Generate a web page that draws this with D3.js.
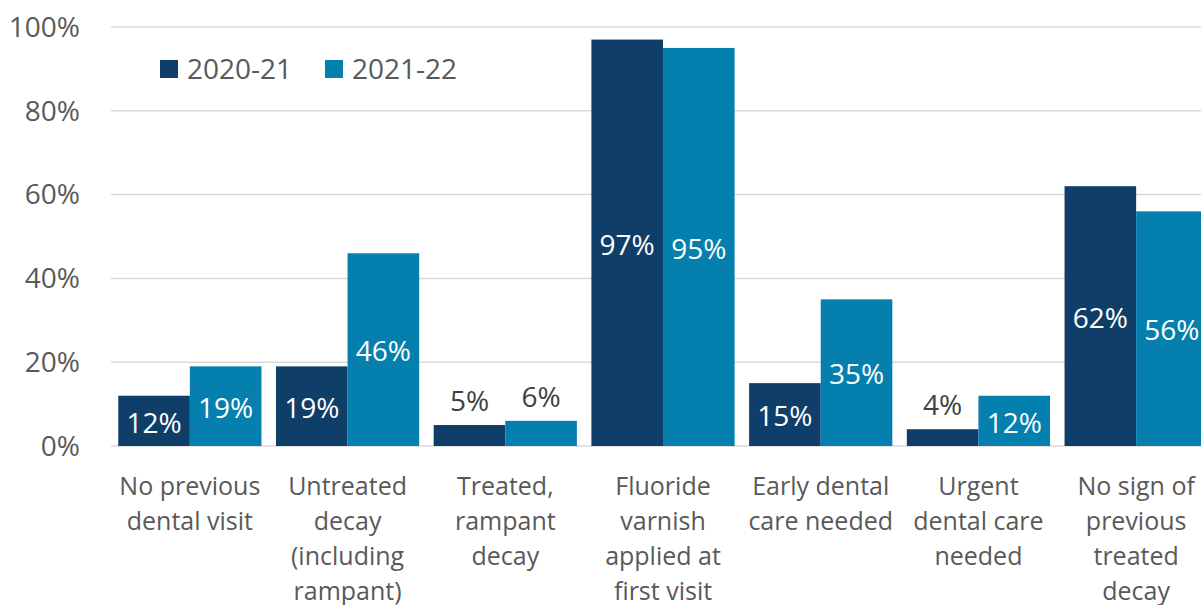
<!DOCTYPE html>
<html>
<head>
<meta charset="utf-8">
<script src="https://cdn.jsdelivr.net/npm/d3@7"></script>
<style>
  body { margin: 0; background: #fff; }
  svg text { font-family: "Open Sans", sans-serif; }
</style>
</head>
<body>
<svg id="vis" width="1201" height="605"></svg>
<script>
// chart values
var categories = [
  ["No previous", "dental visit"],
  ["Untreated", "decay", "(including", "rampant)"],
  ["Treated,", "rampant", "decay"],
  ["Fluoride", "varnish", "applied at", "first visit"],
  ["Early dental", "care needed"],
  ["Urgent", "dental care", "needed"],
  ["No sign of", "previous", "treated", "decay"]
];
var series = ["2020-21", "2021-22"];
var values2020 = [12, 19, 5, 97, 15, 4, 62];
var values2021 = [19, 46, 6, 95, 35, 12, 56];
var yTicks = [0, 20, 40, 60, 80, 100];

var colors = ["#0f3e69", "#047fae"];

var svg = d3.select('#vis');

var x = d3.scaleBand()
  .domain(d3.range(categories.length))
  .range([111, 1215])
  .paddingInner(0.092)
  .paddingOuter(0.046);

var xs = d3.scaleBand()
  .domain(d3.range(series.length))
  .range([0, x.bandwidth()]);

var y = d3.scaleLinear().domain([0, 100]).range([446, 27]);

// gridlines
svg.append('g').selectAll('line.grid')
  .data(yTicks)
  .enter().append('line')
  .attr('x1', 111).attr('x2', 1201)
  .attr('y1', function(d){ return y(d); })
  .attr('y2', function(d){ return y(d); })
  .attr('stroke', '#d9d9d9')
  .attr('stroke-width', 1.5);

// y labels
svg.append('g').selectAll('text.ytick')
  .data(yTicks)
  .enter().append('text')
  .attr('x', 80)
  .attr('y', function(d){ return y(d); })
  .attr('dy', '0.35em')
  .attr('text-anchor', 'end')
  .attr('font-size', 28)
  .attr('fill', '#595959')
  .text(function(d){ return d + '%'; });

var rows = categories.map(function(c, i){
  return [values2020[i], values2021[i]];
});

var groups = svg.append('g').selectAll('g.grp')
  .data(rows)
  .enter().append('g')
  .attr('transform', function(d, i){ return 'translate(' + x(i) + ',0)'; });

groups.selectAll('rect')
  .data(function(d){ return d; })
  .enter().append('rect')
  .attr('x', function(d, j){ return xs(j); })
  .attr('width', xs.bandwidth())
  .attr('y', function(d){ return y(d); })
  .attr('height', function(d){ return y(0) - y(d); })
  .attr('fill', function(d, j){ return colors[j]; });

groups.selectAll('text.val')
  .data(function(d){ return d; })
  .enter().append('text')
  .attr('x', function(d, j){ return xs(j) + xs.bandwidth() / 2; })
  .attr('y', function(d){
    if (d < 10) return y(d) - 24;
    return (y(d) + y(0)) / 2 + 2;
  })
  .attr('dy', '0.35em')
  .attr('text-anchor', 'middle')
  .attr('font-size', 28)
  .attr('fill', function(d){ return d < 10 ? '#404040' : '#ffffff'; })
  .text(function(d){ return d + '%'; });

// category labels
svg.append('g').selectAll('text.cat')
  .data(categories)
  .enter().append('text')
  .attr('text-anchor', 'middle')
  .attr('font-size', 25)
  .attr('fill', '#595959')
  .attr('transform', function(d, i){ return 'translate(' + (x(i) + x.bandwidth() / 2) + ',0)'; })
  .selectAll('tspan')
  .data(function(d){ return d; })
  .enter().append('tspan')
  .attr('x', 0)
  .attr('y', function(d, k){ return 486 + k * 35; })
  .attr('dy', '0.35em')
  .text(function(d){ return d; });

// legend
var legend = svg.append('g').selectAll('g.leg')
  .data(series)
  .enter().append('g')
  .attr('transform', function(d, i){ return 'translate(' + (160 + i * 165) + ',60)'; });
legend.append('rect')
  .attr('width', 18).attr('height', 18)
  .attr('fill', function(d, i){ return colors[i]; });
legend.append('text')
  .attr('x', 27).attr('y', 9)
  .attr('dy', '0.35em')
  .attr('font-size', 28)
  .attr('fill', '#595959')
  .text(function(d){ return d; });
</script>
</body>
</html>
